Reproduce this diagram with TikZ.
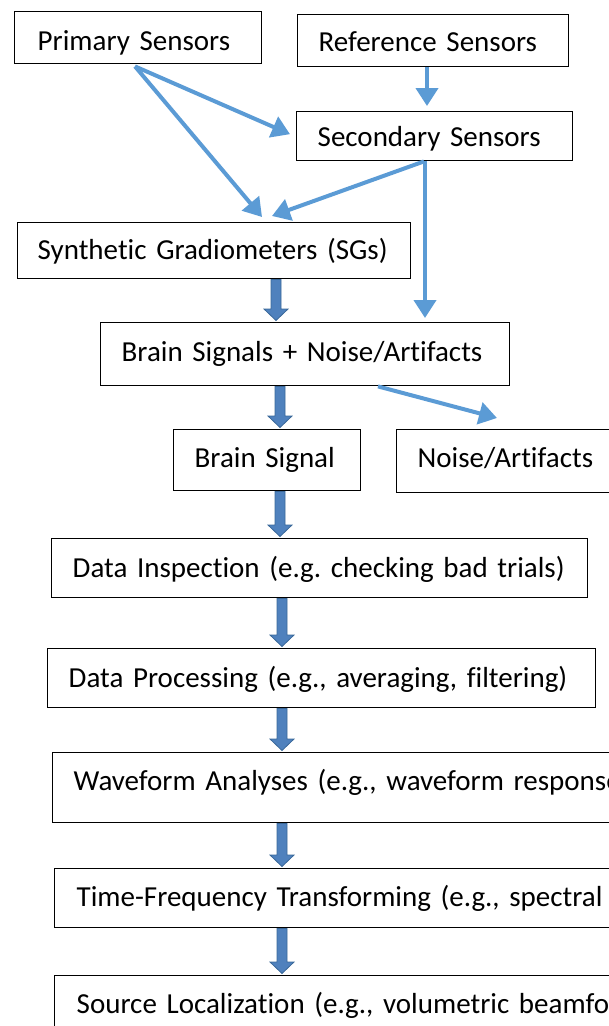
\documentclass[tikz,border=0pt]{standalone}
\usepackage{fontspec}
\setmainfont{Carlito}[Ligatures=NoCommon]
\usetikzlibrary{arrows.meta,calc}
\definecolor{lineblue}{HTML}{5B9BD5}
\definecolor{blockfill}{HTML}{4F81BD}
\definecolor{blockedge}{HTML}{3A6899}
\frenchspacing
\tikzset{
  box/.style={draw=black, line width=1.4pt, rectangle, anchor=north west,
    inner xsep=21pt, inner ysep=0pt, align=left,
    font=\fontsize{29}{35}\selectfont,
    execute at begin node={\hbox\bgroup}, execute at end node={\egroup}},
  flow/.style={draw=lineblue, line width=4pt,
    -{Triangle[length=18pt,width=22pt]}},
  blk/.style={fill=blockfill, draw=blockedge, line width=0.8pt, line join=miter},
}
% block arrow pointing down from anchor #1 to anchor #2, centred on x = #3
\newcommand\blkarrow[3]{%
  \path[blk] let \p1=(#3,0 |- #1), \p2=(#3,0 |- #2) in
    (\x1-5pt,\y1) -- (\x1-5pt,\y2+13pt) -- (\x1-12pt,\y2+13pt) -- (\x1,\y2+1.5pt)
    -- (\x1+12pt,\y2+13pt) -- (\x1+5pt,\y2+13pt) -- (\x1+5pt,\y1) -- cycle;}
\begin{document}
\begin{tikzpicture}[x=1pt, y=-1pt]
\useasboundingbox (0,0) rectangle (609,1026);
\clip (0,0) rectangle (609,1026);

% sensor boxes
\node[box, inner xsep=23pt, text width=201pt, text height=39pt, text depth=13pt] (prim) at (14,11) {Primary Sensors};
\node[box, text width=229pt, text height=37pt, text depth=15pt] (ref) at (297,14) {Reference Sensors};
\node[box, text width=234pt, text height=35pt, text depth=14pt] (sec) at (296,111) {Secondary Sensors};
\node[box, inner xsep=20pt, text width=353pt, text height=37pt, text depth=19pt] (syn) at (17,222) {Synthetic Gradiometers (SGs)};

% signal boxes
\node[box, text width=367pt, text height=39pt, text depth=24pt] (bsn) at (100,322) {Brain Signals + Noise/Artifacts};
\node[box, text width=145pt, text height=38pt, text depth=23pt] (bs) at (173,429) {Brain Signal};
\node[box, text width=240pt, text height=38pt, text depth=25pt] (noise) at (396,429) {Noise/Artifacts};

% analysis pipeline
\node[box, text width=494pt, text height=39pt, text depth=20pt] (di) at (51,538) {Data Inspection (e.g. checking bad trials)};
\node[box, text width=506pt, text height=39pt, text depth=20pt] (dp) at (47,648) {Data Processing (e.g., averaging, filtering)};
\node[box, text width=658pt, text height=38pt, text depth=32pt] (wa) at (52,752) {Waveform Analyses (e.g., waveform response};
\node[box, inner xsep=22pt, text width=656pt, text height=38pt, text depth=21pt] (tf) at (54,868) {Time-Frequency Transforming (e.g., spectral p};
\node[box, inner xsep=22pt, text width=656pt, text height=38pt, text depth=42pt] (sl) at (54,975) {Source Localization (e.g., volumetric beamfor};

% sensor connections
\draw[flow] ($(prim.south west)+(121,2)$) -- ($(sec.west)+(-6,-2)$);
\draw[flow] ($(prim.south west)+(121,2)$) -- ($(syn.north west)+(245,-5)$);
\draw[flow] ($(ref.south west)+(130,0)$) -- ($(sec.north west)+(131,-5)$);
\draw[flow] ($(sec.south west)+(128,0)$) -- ($(syn.north west)+(255,-6)$);
\draw[flow] ($(sec.south west)+(129,0)$) -- ($(bsn.north west)+(325,-4)$);
\draw[flow] ($(bsn.south west)+(278,0)$) -- ($(noise.north west)+(101,-11)$);

% processing flow
\blkarrow{syn.south}{bsn.north}{276}
\blkarrow{bsn.south}{bs.north}{280}
\blkarrow{bs.south}{di.north}{280}
\blkarrow{di.south}{dp.north}{282}
\blkarrow{dp.south}{wa.north}{282}
\blkarrow{wa.south}{tf.north}{282}
\blkarrow{tf.south}{sl.north}{282}
\end{tikzpicture}
\end{document}
